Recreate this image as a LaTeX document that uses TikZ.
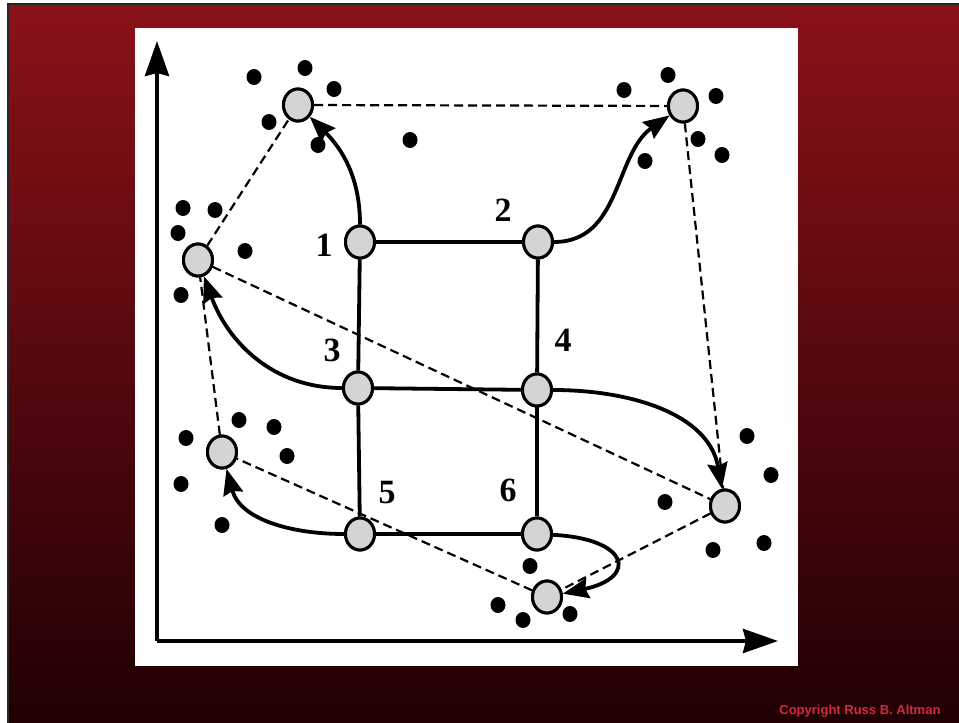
\documentclass[tikz,border=0pt]{standalone}
\usepackage{fontspec}
\setmainfont{Liberation Serif}
\newfontfamily\copyfont{Liberation Sans}
\usepackage{tikz}
\usetikzlibrary{shapes.geometric,arrows.meta}
\definecolor{slidetop}{HTML}{8B1219}
\definecolor{slidemid}{HTML}{6C0D11}
\definecolor{slidebot}{HTML}{200003}
\definecolor{copyred}{HTML}{D22B3D}

\begin{document}
\begin{tikzpicture}[x=1pt,y=1pt,
    atom/.style={ellipse,draw,line width=3pt,fill=black!17,minimum width=29pt,minimum height=32pt,inner sep=0pt},
    num/.style={font=\fontsize{34}{36}\selectfont\bfseries},
    bond/.style={line width=3.8pt},
    move/.style={line width=3.8pt,-{Stealth[length=26pt,width=20pt,inset=3pt]}},
    hull/.style={line width=2.2pt,dash pattern=on 9pt off 5pt},
    axis/.style={line width=4pt,-{Stealth[length=35pt,width=24pt,inset=3pt]}}]
  \useasboundingbox (0,0) rectangle (959,723);
  % slide background
  \shade[top color=slidetop,middle color=slidemid,bottom color=slidebot] (7,0) rectangle (959,719);
  \draw[line width=2pt,black!85] (8,0) -- (8,719) -- (959,719);
  \fill[white] (135,57) rectangle (798,695);
  \node[font=\copyfont\fontsize{13}{15}\selectfont\bfseries,text=copyred,anchor=east] (copy) at (944,12) {Copyright Russ B. Altman};

  % axes
  \coordinate (o) at (157,82);
  \coordinate (ytop) at (157,682);
  \coordinate (xend) at (778,82);
  \draw[axis] (o) -- (ytop);
  \draw[axis] (o) -- (xend);

  % the six atoms
  \node[atom] (n1) at (360,481) {};
  \node[atom] (n2) at (538,481) {};
  \node[atom] (n3) at (358,335) {};
  \node[atom] (n4) at (537,333) {};
  \node[atom] (n5) at (360,189) {};
  \node[atom] (n6) at (537,189) {};
  % where they move to
  \node[atom] (tl) at (298,618) {};
  \node[atom] (tr) at (683,617) {};
  \node[atom] (l) at (198,463) {};
  \node[atom] (ll) at (222,271) {};
  \node[atom] (r) at (725,217) {};
  \node[atom] (b) at (547,126) {};

  \node[num] (t1) at (324,478) {1};
  \node[num] (t2) at (503,513) {2};
  \node[num] (t3) at (332,373) {3};
  \node[num] (t4) at (563,383) {4};
  \node[num] (t5) at (387,230) {5};
  \node[num] (t6) at (508,233) {6};

  % other conformations
  \foreach \p in {(254,646),(305,655),(334,634),(269,601),(318,578),(410,583),
      (183,515),(215,513),(178,490),(245,472),(181,428),
      (624,633),(668,648),(716,627),(698,584),(722,568),(645,562),
      (186,285),(239,303),(274,296),(287,267),(181,239),(222,198),
      (747,287),(771,248),(665,221),(713,173),(764,180),
      (530,157),(498,118),(523,103),(570,109)}
    \fill \p ellipse (7.5 and 8);

  \draw[hull] (tl) -- (tr) -- (r) -- (b) -- (ll) -- (l) -- (tl);
  \draw[hull] (l) -- (r);

  \draw[bond] (n1) -- (n2);
  \draw[bond] (n1) -- (n3);
  \draw[bond] (n2) -- (n4);
  \draw[bond] (n3) -- (n4);
  \draw[bond] (n3) -- (n5);
  \draw[bond] (n4) -- (n6);
  \draw[bond] (n5) -- (n6);

  \draw[move] (n1) to[out=90,in=-45] (tl);
  \draw[move] (n2) to[out=0,in=215] (tr);
  \draw[move] (n3) to[out=180,in=-70] (l);
  \draw[move] (n4) to[out=0,in=100] (r);
  \draw[move] (n5) to[out=180,in=-75] (ll);
  \draw[move] (n6) to[out=-3,in=12,looseness=3.3] (b);

  % redraw atoms on top
  \foreach \a in {n1,n2,n3,n4,n5,n6,tl,tr,l,ll,r,b}
    \draw[line width=3pt,fill=black!17] (\a.center) ellipse (14.5 and 16);
\end{tikzpicture}
\end{document}
